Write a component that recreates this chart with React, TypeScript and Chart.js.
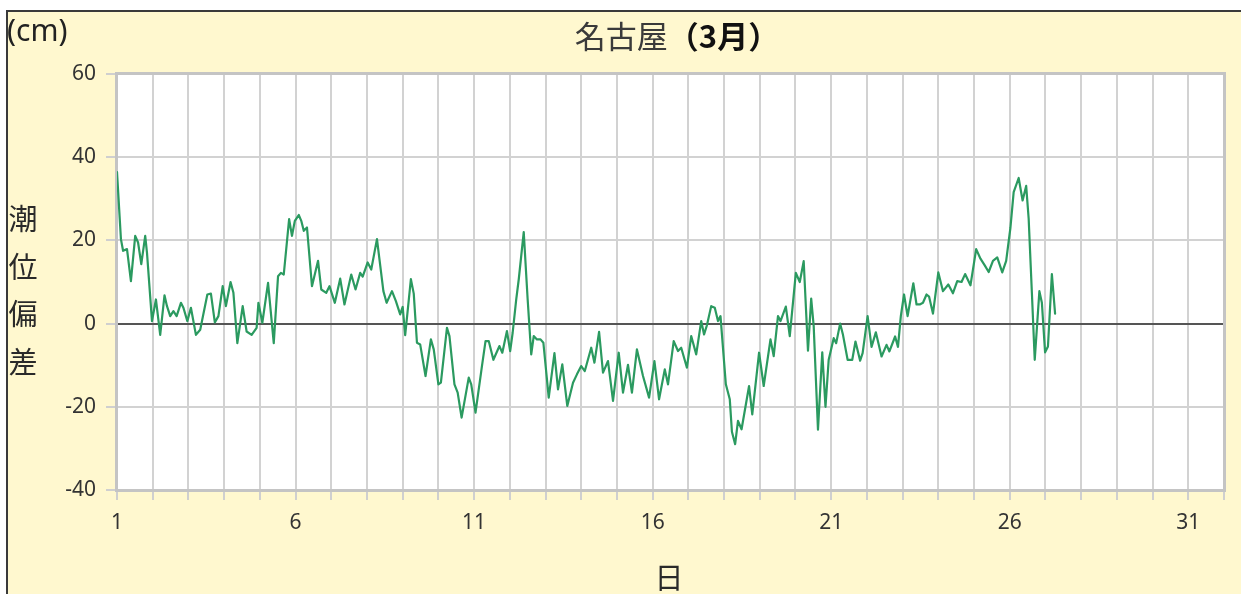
import React, { useEffect, useRef } from 'react';
import { Chart, registerables } from 'chart.js';

Chart.register(...registerables);

// Day of month (fractional) for each reading
const days: number[] = [
  1.0, 1.11, 1.17, 1.28, 1.39, 1.51, 1.59, 1.68, 1.79, 1.84, 1.98, 2.09, 2.21, 2.33, 2.4, 2.49, 2.58, 2.67, 2.79, 2.86,
  2.97, 3.07, 3.21, 3.33, 3.53, 3.63, 3.74, 3.84, 3.96, 4.05, 4.18, 4.26, 4.37, 4.52, 4.63, 4.77, 4.91, 4.96, 5.07, 5.23,
  5.39, 5.51, 5.59, 5.67, 5.82, 5.9, 5.98, 6.09, 6.16, 6.23, 6.32, 6.46, 6.63, 6.72, 6.86, 6.95, 7.1, 7.25, 7.37, 7.56,
  7.68, 7.81, 7.88, 8.02, 8.12, 8.28, 8.46, 8.55, 8.7, 8.81, 8.93, 9.0, 9.07, 9.23, 9.31, 9.4, 9.49, 9.64, 9.79, 9.87,
  10.0, 10.07, 10.24, 10.31, 10.45, 10.54, 10.65, 10.85, 10.92, 11.04, 11.22, 11.32, 11.41, 11.54, 11.71, 11.79, 11.92, 12.01, 12.08, 12.18,
  12.25, 12.39, 12.5, 12.6, 12.67, 12.76, 12.86, 12.94, 13.09, 13.25, 13.35, 13.47, 13.61, 13.77, 13.88, 14.0, 14.1, 14.28, 14.37, 14.5,
  14.61, 14.75, 14.89, 15.05, 15.17, 15.31, 15.42, 15.56, 15.73, 15.9, 16.05, 16.18, 16.34, 16.43, 16.59, 16.71, 16.8, 16.96, 17.08, 17.22,
  17.36, 17.44, 17.52, 17.64, 17.74, 17.83, 17.9, 18.05, 18.16, 18.22, 18.31, 18.39, 18.49, 18.7, 18.79, 18.98, 19.11, 19.3, 19.39, 19.51,
  19.58, 19.73, 19.84, 20.01, 20.12, 20.23, 20.35, 20.44, 20.51, 20.63, 20.75, 20.84, 20.93, 21.07, 21.14, 21.25, 21.33, 21.46, 21.59, 21.68,
  21.81, 21.88, 22.02, 22.13, 22.25, 22.41, 22.55, 22.63, 22.79, 22.87, 22.95, 23.04, 23.14, 23.3, 23.39, 23.48, 23.57, 23.67, 23.74, 23.85,
  24.0, 24.13, 24.28, 24.41, 24.53, 24.65, 24.75, 24.9, 25.06, 25.18, 25.3, 25.41, 25.53, 25.65, 25.79, 25.9, 26.02, 26.11, 26.25, 26.36,
  26.46, 26.53, 26.62, 26.7, 26.83, 26.9, 26.99, 27.07, 27.18, 27.27,
];

// Tide deviation (cm)
const tide: number[] = [
  36.4, 20.3, 17.5, 17.9, 10.2, 21.1, 19.5, 14.3, 21.1, 17, 0.6, 5.8, -2.7, 6.8, 4.2, 1.8, 3.0, 1.8, 5.0, 3.8,
  0.6, 3.8, -2.7, -1.5, 7.0, 7.2, 0.3, 1.8, 9.0, 4.2, 10, 7.4, -4.7, 4.2, -1.9, -2.7, -1.0, 5.0, 0.2, 9.8,
  -4.7, 11.4, 12.2, 11.8, 25.1, 21.1, 24.7, 26.1, 24.7, 22.3, 23.1, 9.0, 15.1, 8.2, 7.4, 9.0, 5.0, 10.8, 4.6, 11.8,
  8.2, 12.2, 11.3, 14.7, 13.0, 20.3, 7.8, 5.0, 7.8, 5.4, 2.2, 4.0, -2.8, 10.7, 7.2, -4.6, -5, -12.6, -3.8, -6.2,
  -14.6, -14.2, -1, -3, -14.6, -16.6, -22.6, -13, -14.6, -21.4, -10.2, -4.2, -4.2, -8.7, -5.4, -7, -1.8, -6.6, -2.2, 5.8,
  10.6, 22, 5.8, -7.4, -3, -3.8, -3.8, -4.6, -17.8, -7.1, -15.8, -9.8, -19.8, -14.2, -12.2, -10.2, -11.4, -5.8, -9.4, -2,
  -11.8, -9, -18.6, -7, -16.6, -9.9, -16.6, -6.2, -12.6, -17.8, -9, -18.2, -11, -14.6, -4.2, -6.6, -5.8, -10.6, -3, -7.4,
  0.6, -2.6, -0.4, 4.2, 3.8, 0.6, 1.8, -14.6, -18.2, -26, -29, -23.4, -25.4, -15, -21.8, -7, -15, -3.8, -7.8, 1.8,
  0.6, 4.1, -3, 12.2, 10, 15, -6.5, 6, -0.6, -25.5, -6.9, -20, -8.7, -3.5, -4.7, 0, -2.7, -8.7, -8.7, -4.3,
  -8.9, -7.1, 1.8, -5.6, -2.1, -7.9, -5.1, -6.7, -3.1, -5.6, 1.8, 7.0, 1.8, 9.7, 4.6, 4.6, 5, 7, 6.5, 2.4,
  12.3, 7.8, 9.4, 7.3, 10.2, 10, 11.9, 9.2, 17.9, 15.6, 14, 12.4, 15.1, 15.9, 12.3, 15.1, 23.1, 31.6, 35, 29.6,
  33.1, 25.2, 7.4, -8.7, 7.8, 5, -6.9, -5.5, 11.9, 2.4,
];

const xLabelDays: number[] = [1, 6, 11, 16, 21, 26, 31];
const xMin = 1;
const xMax = 32;
const yMin = -40;
const yMax = 60;
const yStep = 20;

const titleMain = '名古屋';
const titleMonth = '（3月）';
const unitLabel = '(cm)';
const yTitleChars: string[] = ['潮', '位', '偏', '差'];
const xTitle = '日';

const W = 1241;
const H = 594;
const JP = '"Noto Sans CJK JP", "Noto Sans", sans-serif';
const NUM = '"Noto Sans", "DejaVu Sans", sans-serif';

export default function App() {
  const ref = useRef<HTMLCanvasElement>(null);

  useEffect(() => {
    const canvas = ref.current;
    if (!canvas) return;

    const decor = {
      id: 'decor',
      beforeDraw(chart: any) {
        const { ctx, chartArea: a } = chart;
        ctx.save();
        ctx.fillStyle = '#ffffff';
        ctx.fillRect(0, 0, W, H);
        ctx.fillStyle = '#FFF8CF';
        ctx.fillRect(8, 12, W, H);
        ctx.fillStyle = '#3a3a3a';
        ctx.fillRect(6, 10, W, 2);
        ctx.fillRect(6, 10, 2, H);
        ctx.fillStyle = '#ffffff';
        ctx.fillRect(a.left, a.top, a.right - a.left, a.bottom - a.top);
        ctx.restore();
      },
      beforeDatasetsDraw(chart: any) {
        const { ctx, chartArea: a } = chart;
        ctx.save();
        ctx.strokeStyle = '#c4c4c4';
        ctx.lineWidth = 3;
        ctx.strokeRect(a.left - 0.5, a.top - 0.5, a.right - a.left + 1, a.bottom - a.top + 1);
        ctx.restore();
      },
      afterDraw(chart: any) {
        const { ctx } = chart;
        ctx.save();
        // unit
        ctx.fillStyle = '#222';
        ctx.textBaseline = 'middle';
        ctx.textAlign = 'left';
        ctx.font = `30px ${NUM}`;
        ctx.fillText(unitLabel, 7, 32);
        // title
        const f1 = `31px ${JP}`;
        const f2 = `bold 31px ${JP}`;
        ctx.font = f1;
        const w1 = ctx.measureText(titleMain).width;
        ctx.font = f2;
        const w2 = ctx.measureText(titleMonth).width;
        const start = 677 - (w1 + w2) / 2;
        ctx.font = f1;
        ctx.fillStyle = '#3a3a3a';
        ctx.fillText(titleMain, start, 36);
        ctx.font = f2;
        ctx.fillStyle = '#111';
        ctx.fillText(titleMonth, start + w1, 36);
        // y title (vertical)
        ctx.font = `29px ${JP}`;
        ctx.fillStyle = '#2a2a2a';
        ctx.textAlign = 'center';
        yTitleChars.forEach((c, i) => {
          ctx.fillText(c, 23, 219 + i * 47.5);
        });
        // x title
        ctx.fillText(xTitle, 669, 578);
        ctx.restore();
      },
    };

    const chart = new Chart(canvas, {
      type: 'line',
      data: {
        datasets: [
          {
            data: days.map((d, i) => ({ x: d, y: tide[i] })),
            borderColor: '#2b9a60',
            borderWidth: 2.2,
            borderJoinStyle: 'round',
            borderCapStyle: 'round',
            pointRadius: 0,
            tension: 0,
            fill: false,
          },
        ],
      },
      options: {
        responsive: false,
        animation: false,
        devicePixelRatio: 1,
        layout: { padding: { left: 0, right: 17, top: 74, bottom: 54 } },
        plugins: {
          legend: { display: false },
          title: { display: false },
          tooltip: { enabled: false },
        },
        scales: {
          x: {
            type: 'linear',
            min: xMin,
            max: xMax,
            border: { display: false },
            grid: {
              color: '#d2d2d2',
              lineWidth: 2,
              tickLength: 10,
              tickColor: '#cfcfcf',
            },
            ticks: {
              stepSize: 1,
              autoSkip: false,
              maxRotation: 0,
              padding: 10,
              color: '#333',
              font: { size: 21, family: NUM },
              callback: (v: any) => (xLabelDays.includes(Number(v)) ? String(v) : ''),
            },
            afterFit: (s: any) => {
              s.height = 50;
            },
          },
          y: {
            min: yMin,
            max: yMax,
            border: { display: false },
            grid: {
              color: (c: any) => (c.tick && c.tick.value === 0 ? '#555555' : '#d2d2d2'),
              lineWidth: 2,
              tickLength: 11,
              tickColor: '#cfcfcf',
            },
            ticks: {
              stepSize: yStep,
              padding: 10,
              color: '#333',
              font: { size: 21, family: NUM },
            },
            afterFit: (s: any) => {
              s.width = 117;
            },
          },
        },
      },
      plugins: [decor],
    } as any);

    return () => chart.destroy();
  }, []);

  return (
    <div style={{ position: 'fixed', left: 0, top: 0, width: W, height: H, overflow: 'hidden' }}>
      <canvas ref={ref} width={W} height={H} style={{ width: W, height: H, display: 'block' }} />
    </div>
  );
}
